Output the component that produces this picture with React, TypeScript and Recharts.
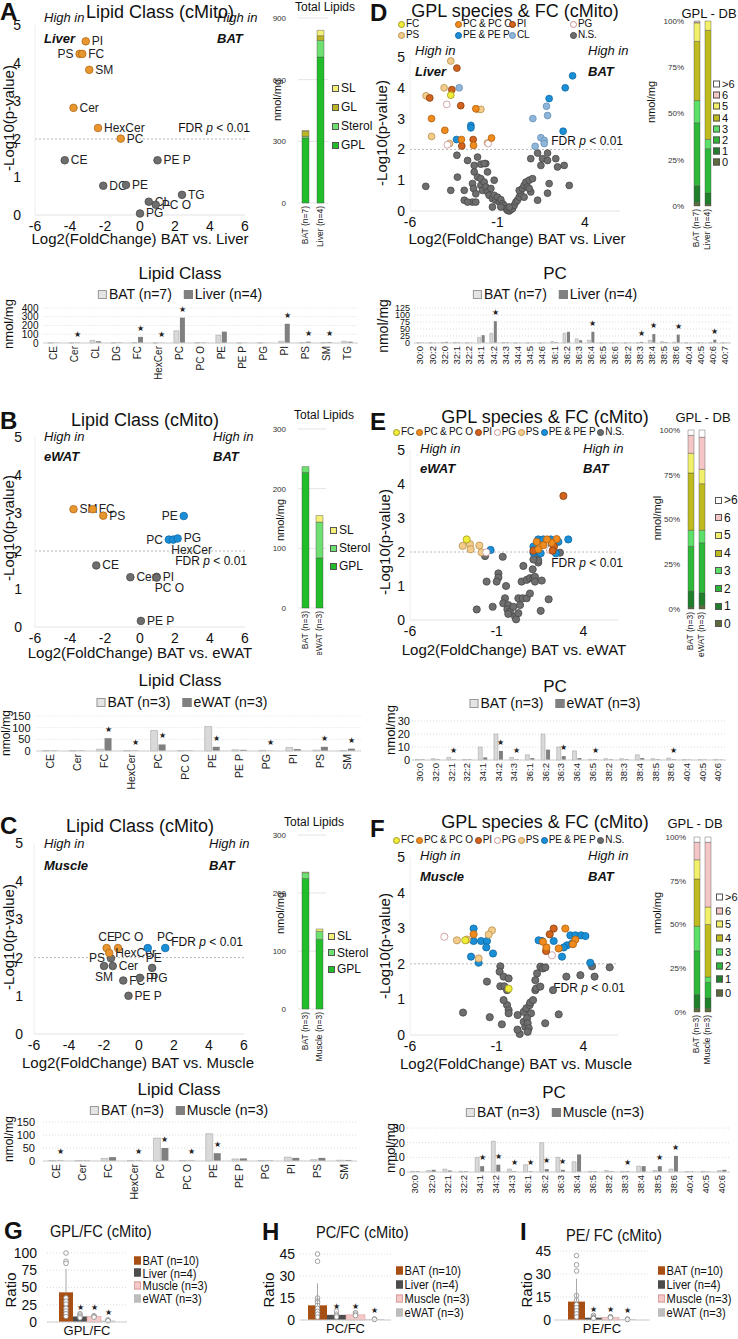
import React from "react"
import {
  ScatterChart,
  Scatter,
  XAxis,
  YAxis,
  ReferenceLine,
  BarChart,
  Bar,
  CartesianGrid,
  LabelList,
  ErrorBar
} from "recharts"

const FONT = '"Liberation Sans", Arial, Helvetica, sans-serif'
const NARROW = '"Liberation Sans Narrow", "Liberation Sans", Arial, sans-serif'

// ---- lipid class volcanoes (log2 FC BAT vs tissue, -log10 p) ----
const volcA = [
  { name: "PI", x: -3.1, y: 4.57, dir: "down" },
  { name: "PS", x: -3.45, y: 4.24, dir: "down" },
  { name: "FC", x: -3.3, y: 4.24, dir: "down" },
  { name: "SM", x: -2.9, y: 3.82, dir: "down" },
  { name: "Cer", x: -3.8, y: 2.82, dir: "down" },
  { name: "HexCer", x: -2.4, y: 2.29, dir: "down" },
  { name: "PC", x: -1.1, y: 2.01, dir: "down" },
  { name: "CE", x: -4.3, y: 1.44, dir: "ns" },
  { name: "PE P", x: 1.0, y: 1.44, dir: "ns" },
  { name: "DG", x: -2.1, y: 0.77, dir: "ns" },
  { name: "PE", x: -0.8, y: 0.79, dir: "ns" },
  { name: "CL", x: 0.5, y: 0.35, dir: "ns" },
  { name: "PC O", x: 0.9, y: 0.27, dir: "ns" },
  { name: "TG", x: 2.4, y: 0.53, dir: "ns" },
  { name: "PG", x: 0.0, y: 0.04, dir: "ns" }
]
const volcB = [
  { name: "SM", x: -3.8, y: 3.1, dir: "down" },
  { name: "FC", x: -2.7, y: 3.1, dir: "down" },
  { name: "PS", x: -2.1, y: 2.93, dir: "down" },
  { name: "PE", x: 2.5, y: 2.92, dir: "up" },
  { name: "PC", x: 1.65, y: 2.3, dir: "up" },
  { name: "HexCer", x: 1.9, y: 2.3, dir: "up" },
  { name: "PG", x: 2.15, y: 2.33, dir: "up" },
  { name: "CE", x: -2.5, y: 1.62, dir: "ns" },
  { name: "Cer", x: -0.55, y: 1.31, dir: "ns" },
  { name: "PI", x: 0.95, y: 1.32, dir: "ns" },
  { name: "PC O", x: 0.95, y: 1.3, dir: "ns" },
  { name: "PE P", x: 0.05, y: 0.16, dir: "ns" }
]
const volcC = [
  { name: "CE", x: -1.85, y: 2.25, dir: "down" },
  { name: "PC O", x: -1.2, y: 2.25, dir: "down" },
  { name: "HexCer", x: -1.7, y: 2.12, dir: "down" },
  { name: "PE", x: 0.5, y: 2.25, dir: "up" },
  { name: "PC", x: 1.5, y: 2.25, dir: "up" },
  { name: "PS", x: -1.6, y: 1.98, dir: "ns" },
  { name: "SM", x: -2.0, y: 1.78, dir: "ns" },
  { name: "Cer", x: -1.5, y: 1.78, dir: "ns" },
  { name: "FC", x: -0.9, y: 1.4, dir: "ns" },
  { name: "PI", x: 0.05, y: 1.47, dir: "ns" },
  { name: "PG", x: 0.75, y: 1.73, dir: "ns" },
  { name: "PE P", x: -0.6, y: 1.0, dir: "ns" }
]
const sideA: Record<string, string> = { PS: "l" }
const sideB: Record<string, string> = { PE: "l", PC: "l", HexCer: "br", "PC O": "br" }
const sideC: Record<string, string> = { CE: "t", "PC O": "tr", PE: "br", PC: "t", PS: "l", SM: "b", PG: "br" }

// ---- GPL species volcanoes: [log2 FC, -log10 p] ----
const D_FC = [[-3.67, 3.76]]
const D_PC = [[-4.77, 3.0], [-4.01, 2.62], [-3.06, 2.32], [-2.37, 2.13], [-1.34, 2.37], [-2.24, 3.32]]
const D_PI = [[-3.32, 4.64], [-3.61, 3.94], [-4.87, 3.67], [-3.1, 3.42], [-2.39, 2.32], [-3.04, 2.11]]
const D_PG = [[-3.9, 3.46], [-3.86, 2.15], [-1.53, 2.19]]
const D_PS = [[-3.67, 4.87], [-4.05, 4.0], [-5.08, 3.74], [-4.77, 2.42], [-3.74, 2.19], [-2.14, 3.3], [-1.95, 3.3], [-1.57, 2.21]]
const D_PE = [[-3.34, 2.32], [-2.52, 2.78], [-2.52, 2.7], [1.95, 3.65], [2.87, 4.0], [3.29, 4.39], [2.75, 2.59]]
const D_CL = [[-3.19, 4.0], [1.02, 3.0], [1.15, 2.1], [1.48, 2.38], [1.67, 2.29], [1.67, 2.19], [1.86, 3.1], [1.8, 3.4]]
const D_NS = [
  [-5.1, 0.8], [-3.32, 1.81], [-3.67, 0.67], [-3.29, 1.1], [-2.9, 0.67], [-2.9, 0.35], [-2.71, 1.64], [-2.33, 1.48],
  [-2.14, 1.75], [-1.95, 1.52], [-1.67, 1.54], [-2.33, 1.27], [-2.14, 1.1], [-1.95, 1.05], [-2.43, 0.89], [-2.37, 0.73],
  [-2.24, 0.56], [-2.43, 0.29], [-2.24, 0.29], [-1.95, 0.83], [-1.86, 0.67], [-1.76, 0.94], [-1.67, 0.78], [-1.57, 0.62],
  [-1.48, 0.51], [-1.38, 0.73], [-1.29, 0.4], [-1.19, 0.51], [-1.1, 0.35], [-1.0, 0.45], [-0.9, 0.29], [-0.81, 0.37],
  [-0.71, 0.24], [-0.62, 0.18], [-0.52, 0.08], [-0.43, 0.02], [-0.33, 0.0], [-0.24, 0.04], [-0.14, 0.08], [-0.05, 0.18],
  [0.05, 0.29], [0.14, 0.35], [0.24, 0.45], [0.33, 0.56], [0.24, 0.67], [0.43, 0.73], [0.52, 0.83], [0.62, 0.94],
  [0.71, 0.78], [0.81, 1.0], [0.9, 1.7], [1.0, 1.05], [0.9, 0.62], [1.29, 0.35], [1.29, 1.88], [1.48, 1.48],
  [1.57, 1.7], [1.86, 1.88], [1.86, 1.64], [1.95, 0.89], [1.86, 0.58], [2.33, 1.7], [2.43, 1.43], [2.81, 1.48],
  [3.1, 0.83], [-1.29, 0.13], [-2.71, 0.29], [-1.19, 1.0], [-1.76, 1.54], [-1.57, 1.27], [-0.81, 0.13], [-0.33, 0.13],
  [0.52, 0.45], [0.81, 0.73]
]

const E_FC = [[-2.73, 2.37]]
const E_PS = [[-2.96, 2.18], [-2.54, 2.23], [-2.5, 2.08], [-2.0, 2.19], [-1.87, 1.99]]
const E_PC = [[1.69, 2.2], [1.4, 2.08], [2.46, 2.38], [2.17, 2.27], [1.31, 2.3], [1.9, 2.37]]
const E_PI = [[2.85, 3.65], [2.31, 2.16], [2.23, 2.04], [1.12, 2.04]]
const E_PG = [[2.08, 2.06], [-1.6, 1.99]]
const E_PE = [[-1.35, 2.06], [1.12, 2.16], [1.12, 1.98], [1.4, 2.37], [1.69, 2.37], [2.12, 2.37], [2.17, 2.2], [2.56, 2.3], [3.13, 2.37], [1.54, 1.96], [2.42, 1.96]]
const E_NS = [
  [-1.67, 1.88], [-0.65, 1.86], [-1.58, 1.13], [-0.9, 1.37], [-0.9, 1.25], [-0.46, 1.0], [-1.0, 1.13], [-2.15, 0.31],
  [-1.23, 0.39], [-0.52, 0.64], [-0.62, 0.49], [-0.33, 0.44], [-0.38, 0.31], [-0.23, 0.25], [-0.33, 0.18], [-0.04, 0.39],
  [0.06, 0.1], [0.12, 0.02], [0.25, 0.2], [0.35, 0.44], [0.25, 0.64], [0.44, 1.13], [0.5, 0.64], [0.73, 0.64],
  [0.54, 1.59], [0.73, 1.18], [0.92, 1.23], [1.08, 1.49], [1.12, 1.23], [1.21, 1.27], [1.21, 1.13], [1.4, 1.69],
  [1.4, 1.76], [1.6, 1.16], [1.54, 0.27], [2.0, 0.61], [2.65, 1.98], [1.12, 1.78], [0.92, 0.78], [1.4, 1.96]
]

const F_FC = [[-2.81, 2.66], [-0.31, 1.3]]
const F_PS = [[-3.29, 2.66], [-2.71, 2.68], [-1.27, 2.94], [-1.46, 2.82], [-2.04, 2.15]]
const F_PC = [[-2.33, 2.83], [1.87, 2.46], [2.58, 2.43], [2.96, 2.99], [3.54, 2.68], [1.67, 2.62], [3.4, 2.55]]
const F_PI = [[2.29, 2.99], [2.06, 2.83], [1.85, 2.36]]
const F_PG = [[-4.02, 2.76], [2.19, 2.24]]
const F_PE = [
  [-2.33, 2.99], [-2.33, 2.64], [-2.48, 2.2], [-2.04, 2.03], [-1.9, 2.64], [-1.56, 2.64], [-1.21, 2.29], [-1.6, 2.46],
  [1.62, 2.64], [2.29, 2.64], [2.77, 2.2], [3.06, 2.52], [3.25, 2.8], [3.54, 2.8], [3.87, 2.8], [4.12, 2.78],
  [4.4, 2.03], [3.35, 2.57], [2.87, 2.46], [1.42, 2.66]
]
const F_NS = [
  [-2.94, 0.63], [-1.4, 0.5], [-1.56, 1.5], [-0.79, 1.93], [-0.83, 1.78], [-0.6, 1.64], [-0.31, 1.59], [-0.79, 1.37],
  [-0.56, 1.37], [-0.4, 1.26], [-0.4, 0.84], [-0.31, 0.7], [0.21, 0.56], [0.56, 0.65], [0.71, 0.75], [0.9, 0.84],
  [0.98, 0.61], [0.65, 0.23], [0.56, 0.37], [0.75, 0.47], [0.79, 0.33], [0.85, 0.19], [0.79, 0.09], [1.23, 1.54],
  [1.33, 1.73], [1.52, 1.92], [1.67, 1.87], [1.23, 1.26], [1.29, 1.31], [1.81, 1.9], [2.25, 1.26], [3.02, 1.64],
  [3.83, 1.68], [4.5, 1.93], [4.65, 1.64], [5.52, 1.9], [0.94, 0.91], [1.1, 0.98], [2.58, 0.58], [1.52, 1.36],
  [-0.6, 0.98], [-0.31, 0.61], [-0.7, 0.3], [0.33, 0.03], [0.2, 0.15], [1.8, 0.33]
]

// ---- total lipids (nmol/mg) ----
const totClasses = ["GPL", "Sterol", "GL", "SL"]
const totA_BAT = [316, 8, 25, 4]
const totA_Liver = [710, 81, 23, 26]
const totB_BAT = [227, 10, 0, 0]
const totB_eWAT = [84, 60, 0, 11]
const totC_BAT = [225, 10, 0, 1]
const totC_Muscle = [120, 14, 0, 4]

// ---- GPL double bonds (% of GPL) ----
const dbClasses = ["0", "1", "2", "3", "4", "5", "6", ">6"]
const dbD_BAT = [2, 9, 34, 12, 32, 10, 0.5, 0.5]
const dbD_Liver = [1, 6, 24, 5, 59, 5, 0, 0]
const dbE_BAT = [1, 9, 25, 9, 32, 11, 10, 3]
const dbE_eWAT = [2, 7, 28, 7, 26, 8, 18, 4]
const dbF_BAT = [2, 8, 25, 14, 27, 11, 10, 3]
const dbF_Muscle = [2, 6, 9, 3, 30, 10, 37, 3]

// ---- lipid class bars (nmol/mg) ----
const catA = ["CE", "Cer", "CL", "DG", "FC", "HexCer", "PC", "PC O", "PE", "PE P", "PG", "PI", "PS", "SM", "TG"]
const barA_BAT = [2, 2, 30, 2, 5, 2, 140, 5, 90, 2, 2, 20, 5, 5, 20]
const barA_Liver = [3, 5, 20, 5, 70, 2, 290, 5, 130, 2, 2, 220, 15, 10, 15]
const starsA = ["Cer", "FC", "HexCer", "PC", "PI", "PS", "SM"]

const catBC = ["CE", "Cer", "FC", "HexCer", "PC", "PC O", "PE", "PE P", "PG", "PI", "PS", "SM"]
const barB_BAT = [2, 2, 8, 2, 88, 2, 105, 5, 3, 15, 4, 2]
const barB_eWAT = [2, 2, 55, 2, 28, 2, 18, 5, 1, 8, 18, 10]
const starsB = ["FC", "HexCer", "PC", "PE", "PG", "PS", "SM"]
const barC_BAT = [2, 2, 10, 2, 88, 2, 105, 8, 2, 15, 5, 3]
const barC_Muscle = [2, 2, 15, 2, 50, 2, 30, 10, 2, 12, 12, 4]
const starsC = ["CE", "HexCer", "PC", "PC O", "PE"]

// ---- PC species bars (nmol/mg) ----
const catD = ["30:0", "30:2", "32:0", "32:1", "32:2", "34:1", "34:2", "34:3", "34:4", "34:5", "34:6", "36:1", "36:2",
  "36:3", "36:4", "36:5", "36:6", "38:2", "38:3", "38:4", "38:5", "38:6", "40:4", "40:5", "40:6", "40:7"]
const pcD_BAT = [1, 1, 2, 2, 1, 20, 35, 2, 1, 1, 1, 5, 35, 15, 10, 1, 1, 1, 1, 10, 5, 3, 1, 1, 2, 1]
const pcD_Liver = [1, 1, 4, 2, 1, 28, 78, 2, 1, 1, 1, 3, 40, 10, 40, 1, 1, 1, 4, 32, 3, 30, 1, 1, 12, 1]
const starsD = ["34:2", "36:4", "38:3", "38:4", "38:6", "40:6"]

const catEF = ["30:0", "32:0", "32:1", "32:2", "34:1", "34:2", "34:3", "36:1", "36:2", "36:3", "36:4", "36:5", "38:2",
  "38:3", "38:4", "38:5", "38:6", "40:4", "40:5", "40:6"]
const pcE_BAT = [0.5, 1, 2, 0.5, 10, 20, 2, 4, 20, 10, 7, 0.5, 1, 1, 4, 1, 1.5, 0.3, 0.3, 0.5]
const pcE_eWAT = [0.5, 0.5, 0.5, 0.5, 2, 7, 0.5, 1.5, 8, 3, 1.5, 0.5, 0.5, 0.5, 1.5, 0.5, 0.5, 0.3, 0.3, 0.3]
const starsE = ["32:1", "34:2", "34:3", "36:3", "36:5", "38:6"]
const pcF_BAT = [0.5, 1, 2, 0.5, 10, 21, 2, 5, 20, 10, 7, 0.5, 1, 0.5, 4, 1, 2, 0.3, 0.5, 1]
const pcF_Muscle = [0.5, 1.5, 1, 0.5, 4, 5, 0.5, 0.5, 2, 1.5, 12, 0.5, 0.5, 0.5, 4, 4, 11, 0.3, 0.3, 1.5]
const starsF = ["34:1", "34:2", "34:3", "36:1", "36:2", "36:3", "38:3", "38:5", "38:6"]

// ---- ratios ----
const ratioGroups = ["BAT", "Liver", "Muscle", "eWAT"]
const ratioLegend = ["BAT (n=10)", "Liver (n=4)", "Muscle (n=3)", "eWAT (n=3)"]
const gplFc = [43, 8, 8, 2]
const gplFcSd = [34, 2, 1, 1]
const gplFcPts = [[100, 88, 85, 35, 30, 26, 20, 16, 12, 8], [12, 10, 8, 6], [9, 8, 7], [3, 2, 2]]
const pcFc = [10, 3.5, 3.5, 0.5]
const pcFcSd = [15, 1.5, 1, 0.3]
const pcFcPts = [[45, 40, 15, 13, 12, 10, 8, 6, 4, 2], [6, 4, 3, 2], [5, 4, 3], [0.6, 0.5, 0.4]]
const peFc = [12, 1.5, 1.5, 0.5]
const peFcSd = [15, 1, 0.5, 0.3]
const peFcPts = [[42, 36, 32, 16, 13, 10, 8, 6, 4, 2], [3, 2, 1.5, 1], [2, 2, 1.5], [0.5, 0.5, 0.3]]

const ORANGE = { fill: "#E8962E", stroke: "#B06A18" }
const BLUE = { fill: "#1B8FD6", stroke: "#0E68A6" }
const GREY = { fill: "#6E6E6E", stroke: "#474747" }
const CLS = {
  FC: { fill: "#F0EC3A", stroke: "#A29A1E" },
  PC: { fill: "#F08C1E", stroke: "#B0600E" },
  PI: { fill: "#D2641E", stroke: "#8A3E0C" },
  PG: { fill: "#FFFFFF", stroke: "#C89090" },
  PS: { fill: "#F3CB8A", stroke: "#B89050" },
  PE: BLUE,
  CL: { fill: "#8DB6DA", stroke: "#6A90B6" },
  NS: GREY
}
const TOT_COL: Record<string, string> = { GPL: "#22BE2A", Sterol: "#6EE072", GL: "#BDB521", SL: "#F4EF78" }
const DB_COL: Record<string, string> = {
  "0": "#5E6B3B", "1": "#1F7F2A", "2": "#2DB83A", "3": "#5CE067",
  "4": "#BFBA1E", "5": "#F2F06A", "6": "#F5C6C6", ">6": "#FFFFFF"
}
const RATIO_COL: Record<string, string> = { BAT: "#A84F14", Liver: "#4D4D4D", Muscle: "#F6C9C9", eWAT: "#BDBDBD" }

const T = ({ x, y, size = 12, bold = false, italic = false, anchor = "start", rot = false, squeeze = 1, family = FONT, children }: any) => {
  const tx = anchor === "middle" ? "-50%" : anchor === "end" ? "-100%" : "0"
  return (
    <div
      style={{
        position: "absolute",
        left: x,
        top: y,
        fontSize: size,
        fontWeight: bold ? 700 : 400,
        fontStyle: italic ? "italic" : "normal",
        fontFamily: family,
        whiteSpace: "nowrap",
        lineHeight: 1,
        color: "#111",
        transformOrigin: rot ? "50% 50%" : "0 50%",
        transform: rot ? "translate(-50%, -50%) rotate(-90deg)" : `translate(${tx}, -50%) scaleX(${squeeze})`
      }}
    >
      {children}
    </div>
  )
}

const Sq = ({ fill, stroke = "#666", s = 7 }: any) => (
  <span
    style={{
      display: "inline-block",
      width: s,
      height: s,
      background: fill,
      border: `1px solid ${stroke}`,
      boxSizing: "border-box",
      marginRight: 2
    }}
  />
)

const Dot = ({ fill, stroke }: any) => (
  <span
    style={{
      display: "inline-block",
      width: 7,
      height: 7,
      borderRadius: "50%",
      background: fill,
      border: `1px solid ${stroke}`,
      boxSizing: "border-box",
      marginRight: 1
    }}
  />
)

const RotTick = (fs: number, family = FONT) => (p: any) => (
  <text
    x={p.x}
    y={p.y}
    transform={`rotate(-90, ${p.x}, ${p.y})`}
    textAnchor="end"
    dx={-3}
    dy={fs * 0.35}
    fontSize={fs}
    fontFamily={family}
    fill="#222"
  >
    {p.payload.value}
  </text>
)

const toPts = (arr: number[][]) => arr.map(([x, y]) => ({ x, y }))

const Volcano = ({ left, top, width, height, mt, yWidth, tickMargin, r, groups, xTicks, sides }: any) => {
  const shapeFor = (g: any) => (p: any) => {
    const { cx, cy, payload } = p
    let label = null
    if (payload.name) {
      const side = (sides && sides[payload.name]) || "r"
      let tx = cx + 6
      let ty = cy + 4
      let anchor = "start"
      if (side === "l") { tx = cx - 6; anchor = "end" }
      if (side === "t") { tx = cx; ty = cy - 7; anchor = "middle" }
      if (side === "tr") { tx = cx - 4; ty = cy - 7 }
      if (side === "b") { tx = cx; ty = cy + 15; anchor = "middle" }
      if (side === "br") { tx = cx - 2; ty = cy + 14 }
      label = (
        <text x={tx} y={ty} textAnchor={anchor} fontSize={12} fill="#222" fontFamily={FONT}>
          {payload.name}
        </text>
      )
    }
    return (
      <g>
        <circle cx={cx} cy={cy} r={r} fill={g.fill} stroke={g.stroke} strokeWidth={0.8} />
        {label}
      </g>
    )
  }
  return (
    <div style={{ position: "absolute", left, top }}>
      <ScatterChart width={width} height={height} margin={{ top: mt, right: 5, left: 0, bottom: 0 }}>
        <XAxis
          type="number"
          dataKey="x"
          domain={[-6, 6]}
          ticks={xTicks}
          interval={0}
          tickLine={false}
          tickSize={0}
          tickMargin={6}
          height={30}
          axisLine={{ stroke: "#e3e3e3" }}
          tick={{ fontSize: 14, fill: "#111", fontFamily: FONT }}
        />
        <YAxis
          type="number"
          dataKey="y"
          domain={[0, 5]}
          ticks={[0, 1, 2, 3, 4, 5]}
          interval={0}
          width={yWidth}
          tickLine={false}
          tickSize={0}
          tickMargin={tickMargin}
          axisLine={{ stroke: "#eeeeee" }}
          tick={{ fontSize: 14, fill: "#111", fontFamily: FONT }}
        />
        <ReferenceLine y={2} stroke="#b8b8b8" strokeDasharray="2 2" />
        {groups.map((g: any, i: number) => (
          <Scatter key={i} data={g.data} fill={g.fill} shape={shapeFor(g)} isAnimationActive={false} />
        ))}
      </ScatterChart>
    </div>
  )
}

const Stack = ({ left, top, width, height, xH, samples, rows, classes, colors, yMax, yTicks, pct, tickMargin, barSize = 7 }: any) => {
  const data = samples.map((s: string, i: number) => {
    const o: any = { name: s }
    classes.forEach((c: string, j: number) => { o[c] = rows[i][j] })
    return o
  })
  return (
    <div style={{ position: "absolute", left, top }}>
      <BarChart width={width} height={height} data={data} margin={{ top: 8, right: 0, left: 0, bottom: 0 }} barCategoryGap={0}>
        {!pct && <CartesianGrid vertical={false} stroke="#e4e4e4" />}
        <XAxis dataKey="name" interval={0} height={xH} tickLine={false} axisLine={false} tickSize={0} tickMargin={0} tick={RotTick(8.5)} />
        <YAxis
          domain={[0, yMax]}
          ticks={yTicks}
          interval={0}
          width={40}
          tickLine={false}
          axisLine={false}
          tickSize={0}
          tickMargin={tickMargin}
          tickFormatter={(v: number) => (pct ? `${v}%` : `${v}`)}
          tick={{ fontSize: 8, fill: "#333", fontFamily: FONT }}
        />
        {classes.map((c: string) => (
          <Bar key={c} dataKey={c} stackId="s" fill={colors[c]} stroke="#4a4a4a" strokeWidth={0.4} barSize={barSize} isAnimationActive={false} />
        ))}
      </BarChart>
    </div>
  )
}

const starLabel = (p: any) =>
  p.value === 1 ? (
    <text x={p.x + p.width / 2} y={p.y - 6} textAnchor="middle" fontSize={8} fill="#222">
      ★
    </text>
  ) : null

const Pair = ({ left, top, width, height, yWidth, xH, cats, a, b, stars, yMax, yTicks, xFs, yFs = 11, tickMargin }: any) => {
  const data = cats.map((c: string, i: number) => ({ name: c, a: a[i], b: b[i], star: stars.includes(c) ? 1 : 0 }))
  return (
    <div style={{ position: "absolute", left, top }}>
      <BarChart width={width} height={height} data={data} margin={{ top: 8, right: 4, left: 0, bottom: 0 }} barGap={1} barCategoryGap="22%">
        <CartesianGrid vertical={false} stroke="#dcdcdc" strokeDasharray="1 2" />
        <XAxis dataKey="name" interval={0} height={xH} tickLine={false} tickSize={0} tickMargin={0} axisLine={{ stroke: "#cfcfcf" }} tick={RotTick(xFs)} />
        <YAxis
          domain={[0, yMax]}
          ticks={yTicks}
          interval={0}
          width={yWidth}
          tickLine={false}
          axisLine={false}
          tickSize={0}
          tickMargin={tickMargin}
          tick={{ fontSize: yFs, fill: "#111", fontFamily: FONT }}
        />
        <Bar dataKey="a" fill="#d9d9d9" stroke="#9a9a9a" strokeWidth={0.5} isAnimationActive={false} />
        <Bar dataKey="b" fill="#808080" isAnimationActive={false}>
          <LabelList dataKey="star" content={starLabel} />
        </Bar>
      </BarChart>
    </div>
  )
}

const Ratio = ({ left, top, width, height, yWidth, cat, vals, sds, pts, yMax, yTicks, gap, tickMargin }: any) => {
  const row: any = { name: cat }
  ratioGroups.forEach((g, i) => {
    row[g] = vals[i]
    row["e" + g] = [0, sds[i]]
    row["s" + g] = i > 0 ? 1 : 0
  })
  const plotH = height - 8 - 17
  const shapeFor = (i: number) => (p: any) => {
    const base = p.y + p.height
    const k = plotH / yMax
    return (
      <g>
        <rect x={p.x} y={p.y} width={p.width} height={p.height} fill={RATIO_COL[ratioGroups[i]]} stroke={i === 2 ? "#d89a9a" : "none"} strokeWidth={0.6} />
        {pts[i].map((v: number, j: number) => (
          <circle key={j} cx={p.x + p.width / 2} cy={base - v * k} r={2.3} fill="#fff" stroke="#8a8a8a" strokeWidth={0.8} />
        ))}
      </g>
    )
  }
  return (
    <div style={{ position: "absolute", left, top }}>
      <BarChart width={width} height={height} data={[row]} margin={{ top: 8, right: 3, left: 0, bottom: 0 }} barGap={0} barCategoryGap={gap}>
        <CartesianGrid vertical={false} stroke="#dedede" strokeDasharray="1 2" />
        <XAxis dataKey="name" height={17} tickLine={false} tickSize={0} tickMargin={4} axisLine={{ stroke: "#cfcfcf" }} tick={{ fontSize: 13, fill: "#111", fontFamily: NARROW }} />
        <YAxis
          domain={[0, yMax]}
          ticks={yTicks}
          interval={0}
          width={yWidth}
          tickLine={false}
          axisLine={false}
          tickSize={0}
          tickMargin={tickMargin}
          tick={{ fontSize: 14, fill: "#111", fontFamily: NARROW }}
        />
        {ratioGroups.map((g, i) => (
          <Bar key={g} dataKey={g} fill={RATIO_COL[g]} shape={shapeFor(i)} isAnimationActive={false}>
            {i === 0 && <ErrorBar dataKey={"e" + g} width={0} stroke="#a8a8a8" strokeWidth={1} />}
            {i > 0 && <LabelList dataKey={"s" + g} content={starLabel} />}
          </Bar>
        ))}
      </BarChart>
    </div>
  )
}

const PairLegend = ({ x, y, a, b }: any) => (
  <div style={{ position: "absolute", left: x, top: y, transform: "translate(-50%, -50%)", fontSize: 14, whiteSpace: "nowrap", display: "flex", alignItems: "center", lineHeight: 1 }}>
    <Sq fill="#e4e4e4" stroke="#999" s={9} />
    <span style={{ marginRight: 12 }}>{a}</span>
    <Sq fill="#808080" stroke="#808080" s={9} />
    <span>{b}</span>
  </div>
)

const ColumnKey = ({ x, y, items, step, size = 11 }: any) => (
  <div style={{ position: "absolute", left: x, top: y }}>
    {items.map((it: any, i: number) => (
      <div key={i} style={{ position: "absolute", top: i * step, display: "flex", alignItems: "center", fontSize: size, whiteSpace: "nowrap", lineHeight: 1, transform: "translateY(-50%)" }}>
        <Sq fill={it.fill} stroke="#555" s={7} />
        {it.label}
      </div>
    ))}
  </div>
)

const RowKey = ({ x, y, items, size = 10 }: any) => (
  <div style={{ position: "absolute", left: x, top: y, transform: "translateY(-50%)", display: "flex", alignItems: "center", fontSize: size, whiteSpace: "nowrap", lineHeight: 1, letterSpacing: -0.2 }}>
    {items.map((it: any, i: number) => (
      <span key={i} style={{ display: "flex", alignItems: "center", marginRight: 2 }}>
        <Dot fill={it.fill} stroke={it.stroke} />
        {it.label}
      </span>
    ))}
  </div>
)

const GPLGroups = (fc: any, pc: any, pi: any, pg: any, ps: any, pe: any, ns: any, cl?: any) => {
  const g = [{ data: toPts(ns), ...CLS.NS }]
  if (cl) g.push({ data: toPts(cl), ...CLS.CL })
  g.push({ data: toPts(pe), ...CLS.PE })
  g.push({ data: toPts(ps), ...CLS.PS })
  g.push({ data: toPts(pg), ...CLS.PG })
  g.push({ data: toPts(pi), ...CLS.PI })
  g.push({ data: toPts(pc), ...CLS.PC })
  g.push({ data: toPts(fc), ...CLS.FC })
  return g
}

const classGroups = (arr: any[]) => [
  { data: arr.filter((d) => d.dir === "ns"), ...GREY },
  { data: arr.filter((d) => d.dir === "down"), ...ORANGE },
  { data: arr.filter((d) => d.dir === "up"), ...BLUE }
]

const rowKeyEF = [
  { label: "FC", ...CLS.FC },
  { label: "PC & PC O", ...CLS.PC },
  { label: "PI", ...CLS.PI },
  { label: "PG", ...CLS.PG },
  { label: "PS", ...CLS.PS },
  { label: "PE & PE P", ...CLS.PE },
  { label: "N.S.", ...CLS.NS }
]

const totKey = (classes: string[]) => classes.slice().reverse().map((c) => ({ label: c, fill: TOT_COL[c] }))
const dbKey = dbClasses.slice().reverse().map((c) => ({ label: c, fill: DB_COL[c] }))

const RatioKey = ({ x, y, step }: any) => (
  <div style={{ position: "absolute", left: x, top: y, transform: "scaleX(0.86)", transformOrigin: "left top" }}>
    {ratioLegend.map((l, i) => (
      <div key={l} style={{ position: "absolute", top: i * step, display: "flex", alignItems: "center", fontSize: 13, fontFamily: NARROW, whiteSpace: "nowrap", lineHeight: 1, transform: "translateY(-50%)" }}>
        <Sq fill={RATIO_COL[ratioGroups[i]]} stroke={i === 2 ? "#d89a9a" : RATIO_COL[ratioGroups[i]]} s={8} />
        {l}
      </div>
    ))}
  </div>
)

const VolcText = ({ px, low, highY, lowY, rightX, fdrX, fdrY, ylX, ylY, xlX, xlY, xlabel, letter, title, titleX, titleY, letterY }: any) => (
  <>
    <T x={px - 2} y={letterY} size={24} bold>{letter}</T>
    <T x={titleX} y={titleY} size={18} anchor="middle">{title}</T>
    <T x={px + 42} y={highY} size={13} italic>High in</T>
    <T x={px + 42} y={lowY} size={13} italic bold>{low}</T>
    <T x={rightX} y={highY} size={13} italic>High in</T>
    <T x={rightX} y={lowY} size={13} italic bold>BAT</T>
    <T x={fdrX} y={fdrY} size={12} anchor="end">FDR <i>p</i> {"<"} 0.01</T>
    <T x={ylX} y={ylY} size={15} rot>-Log10(p-value)</T>
    <T x={xlX} y={xlY} size={15} anchor="middle">{xlabel}</T>
  </>
)

export default function App() {
  return (
    <div style={{ position: "absolute", left: 0, top: 0, width: 738, height: 1339, background: "#fff", fontFamily: FONT, color: "#111", overflow: "hidden" }}>
      {/* ---------- A ---------- */}
      <VolcText px={2} low="Liver" highY={17} lowY={38} rightX={217} fdrX={250} fdrY={128} ylX={8} ylY={118} xlX={140} xlY={238}
        xlabel="Log2(FoldChange)  BAT vs. Liver" letter="A" title="Lipid Class (cMito)" titleX={160} titleY={12} letterY={12} />
      <Volcano left={0} top={0} width={250} height={245} mt={25} yWidth={35} tickMargin={14} r={3.8}
        groups={classGroups(volcA)} xTicks={[-6, -4, -2, 0, 2, 4, 6]} sides={sideA} />
      <T x={325} y={7} size={12} anchor="middle">Total Lipids</T>
      <T x={277} y={100} size={11} rot>nmol/mg</T>
      <Stack left={258} top={10} width={70} height={240} xH={47} samples={["BAT (n=7)", "Liver (n=4)"]}
        rows={[totA_BAT, totA_Liver]} classes={totClasses} colors={TOT_COL} yMax={900} yTicks={[0, 300, 600, 900]} tickMargin={12} />
      <ColumnKey x={332} y={88} step={19} items={totKey(totClasses)} size={12} />

      <T x={180} y={273} size={17} anchor="middle">Lipid Class</T>
      <PairLegend x={180} y={294} a="BAT (n=7)" b="Liver (n=4)" />
      <T x={8} y={324} size={13} rot>nmol/mg</T>
      <Pair left={0} top={300} width={362} height={79} yWidth={43.5} xH={36} cats={catA} a={barA_BAT} b={barA_Liver}
        stars={starsA} yMax={400} yTicks={[0, 100, 200, 300, 400]} xFs={10} yFs={10} tickMargin={5} />

      {/* ---------- D ---------- */}
      <T x={370} y={13} size={24} bold>D</T>
      <T x={515} y={11} size={18} anchor="middle">GPL species &amp; FC (cMito)</T>
      <RowKey x={398} y={24} items={[{ label: "FC", ...CLS.FC }]} />
      <RowKey x={455} y={24} items={[{ label: "PC & PC O", ...CLS.PC }]} />
      <RowKey x={509} y={24} items={[{ label: "PI", ...CLS.PI }]} />
      <RowKey x={570} y={24} items={[{ label: "PG", ...CLS.PG }]} />
      <RowKey x={398} y={35} items={[{ label: "PS", ...CLS.PS }]} />
      <RowKey x={455} y={35} items={[{ label: "PE & PE P", ...CLS.PE }]} />
      <RowKey x={509} y={35} items={[{ label: "CL", ...CLS.CL }]} />
      <RowKey x={570} y={35} items={[{ label: "N.S.", ...CLS.NS }]} />
      <T x={415} y={50} size={13} italic>High in</T>
      <T x={415} y={71} size={13} italic bold>Liver</T>
      <T x={588} y={50} size={13} italic>High in</T>
      <T x={588} y={71} size={13} italic bold>BAT</T>
      <T x={623} y={141} size={12} anchor="end">FDR <i>p</i> {"<"} 0.01</T>
      <T x={381} y={133} size={15} rot>-Log10(p-value)</T>
      <T x={517} y={238} size={15} anchor="middle">Log2(FoldChange)  BAT vs. Liver</T>
      <Volcano left={370} top={30} width={255} height={211} mt={27} yWidth={40} tickMargin={5} r={3.4}
        groups={GPLGroups(D_FC, D_PC, D_PI, D_PG, D_PS, D_PE, D_NS, D_CL)} xTicks={[-6, -1, 4]} />
      <T x={709} y={13} size={13} anchor="middle">GPL - DB</T>
      <T x={651} y={102} size={11} rot>nmol/mg</T>
      <Stack left={650.5} top={13} width={62} height={245} xH={52} samples={["BAT (n=7)", "Liver (n=4)"]}
        rows={[dbD_BAT, dbD_Liver]} classes={dbClasses} colors={DB_COL} yMax={100} yTicks={[0, 25, 50, 75, 100]} pct tickMargin={7} barSize={6} />
      <ColumnKey x={713} y={84} step={11.2} items={dbKey} size={11} />

      <T x={555} y={273} size={17} anchor="middle">PC</T>
      <PairLegend x={555} y={294} a="BAT (n=7)" b="Liver (n=4)" />
      <T x={383} y={326} size={14} rot>nmol/mg</T>
      <Pair left={370} top={300} width={365} height={79} yWidth={44} xH={36} cats={catD} a={pcD_BAT} b={pcD_Liver}
        stars={starsD} yMax={125} yTicks={[0, 25, 50, 75, 100, 125]} xFs={9.5} yFs={9} tickMargin={4} />

      {/* ---------- B ---------- */}
      <VolcText px={2} low="eWAT" highY={436} lowY={456} rightX={213} fdrX={247} fdrY={561} ylX={8} ylY={528} xlX={140} xlY={652}
        xlabel="Log2(FoldChange)  BAT vs. eWAT" letter="B" title="Lipid Class (cMito)" titleX={145} titleY={420} letterY={421} />
      <Volcano left={0} top={412} width={250} height={245} mt={25} yWidth={35} tickMargin={13} r={3.8}
        groups={classGroups(volcB)} xTicks={[-6, -4, -2, 0, 2, 4, 6]} sides={sideB} />
      <T x={324} y={415} size={12} anchor="middle">Total Lipids</T>
      <T x={280} y={520} size={11} rot>nmol/mg</T>
      <Stack left={258} top={421} width={68} height={234} xH={47} samples={["BAT (n=3)", "eWAT (n=3)"]}
        rows={[totB_BAT, totB_eWAT]} classes={totClasses} colors={TOT_COL} yMax={300} yTicks={[0, 100, 200, 300]} tickMargin={12} />
      <ColumnKey x={330} y={530} step={18} items={[{ label: "SL", fill: TOT_COL.SL }, { label: "Sterol", fill: TOT_COL.Sterol }, { label: "GPL", fill: TOT_COL.GPL }]} size={12} />

      <T x={180} y={680} size={17} anchor="middle">Lipid Class</T>
      <PairLegend x={182} y={702} a="BAT (n=3)" b="eWAT (n=3)" />
      <T x={6} y={733} size={12} rot>nmol/mg</T>
      <Pair left={0} top={708} width={365} height={81} yWidth={36.5} xH={38} cats={catBC} a={barB_BAT} b={barB_eWAT}
        stars={starsB} yMax={150} yTicks={[0, 50, 100, 150]} xFs={10.5} yFs={11} tickMargin={6} />

      {/* ---------- E ---------- */}
      <T x={370} y={422} size={24} bold>E</T>
      <T x={545} y={417} size={18} anchor="middle">GPL species &amp; FC (cMito)</T>
      <RowKey x={393} y={432} items={rowKeyEF} size={10} />
      <T x={420} y={448} size={13} italic>High in</T>
      <T x={420} y={468} size={13} italic bold>eWAT</T>
      <T x={583} y={448} size={13} italic>High in</T>
      <T x={583} y={468} size={13} italic bold>BAT</T>
      <T x={623} y={563} size={12} anchor="end">FDR <i>p</i> {"<"} 0.01</T>
      <T x={384} y={542} size={15} rot>-Log10(p-value)</T>
      <T x={514} y={649} size={15} anchor="middle">Log2(FoldChange)  BAT vs. eWAT</T>
      <Volcano left={370} top={423} width={253} height={227} mt={27} yWidth={40} tickMargin={5} r={3.6}
        groups={GPLGroups(E_FC, E_PC, E_PI, E_PG, E_PS, E_PE, E_NS)} xTicks={[-6, -1, 4]} />
      <T x={703} y={417} size={13} anchor="middle">GPL - DB</T>
      <T x={657} y={518} size={11} rot>nmol/mgl</T>
      <Stack left={645} top={422} width={62} height={240} xH={53} samples={["BAT (n=3)", "eWAT (n=3)"]}
        rows={[dbE_BAT, dbE_eWAT]} classes={dbClasses} colors={DB_COL} yMax={100} yTicks={[0, 25, 50, 75, 100]} pct tickMargin={5} barSize={6} />
      <ColumnKey x={715} y={500} step={17.7} items={dbKey} size={12} />

      <T x={555} y={686} size={17} anchor="middle">PC</T>
      <PairLegend x={555} y={703} a="BAT (n=3)" b="eWAT (n=3)" />
      <T x={390} y={730} size={13} rot>nmol/mg</T>
      <Pair left={370} top={713} width={360} height={82} yWidth={42} xH={35} cats={catEF} a={pcE_BAT} b={pcE_eWAT}
        stars={starsE} yMax={30} yTicks={[0, 10, 20, 30]} xFs={9.5} yFs={11} tickMargin={2} />

      {/* ---------- C ---------- */}
      <VolcText px={2} low="Muscle" highY={843} lowY={865} rightX={209} fdrX={243} fdrY={942} ylX={8} ylY={937} xlX={138} xlY={1062}
        xlabel="Log2(FoldChange)  BAT vs. Muscle" letter="C" title="Lipid Class (cMito)" titleX={140} titleY={826} letterY={826} />
      <Volcano left={0} top={818} width={249} height={246} mt={25} yWidth={34} tickMargin={11} r={3.8}
        groups={classGroups(volcC)} xTicks={[-6, -4, -2, 0, 2, 4, 6]} sides={sideC} />
      <T x={314} y={822} size={12} anchor="middle">Total Lipids</T>
      <T x={280} y={913} size={11} rot>nmol/mg</T>
      <Stack left={258} top={827} width={68} height={234} xH={52} samples={["BAT (n=3)", "Muscle (n=3)"]}
        rows={[totC_BAT, totC_Muscle]} classes={totClasses} colors={TOT_COL} yMax={300} yTicks={[0, 100, 200, 300]} tickMargin={12} />
      <ColumnKey x={328} y={936} step={16.5} items={[{ label: "SL", fill: TOT_COL.SL }, { label: "Sterol", fill: TOT_COL.Sterol }, { label: "GPL", fill: TOT_COL.GPL }]} size={12} />

      <T x={179} y={1089} size={17} anchor="middle">Lipid Class</T>
      <PairLegend x={179} y={1110} a="BAT (n=3)" b="Muscle (n=3)" />
      <T x={9} y={1139} size={12} rot>nmol/mg</T>
      <Pair left={0} top={1114} width={361} height={87} yWidth={43} xH={40} cats={catBC} a={barC_BAT} b={barC_Muscle}
        stars={starsC} yMax={150} yTicks={[0, 50, 100, 150]} xFs={10.5} yFs={11} tickMargin={8} />

      {/* ---------- F ---------- */}
      <T x={370} y={829} size={24} bold>F</T>
      <T x={545} y={822} size={18} anchor="middle">GPL species &amp; FC (cMito)</T>
      <RowKey x={393} y={840} items={rowKeyEF} size={10} />
      <T x={420} y={855} size={13} italic>High in</T>
      <T x={420} y={876} size={13} italic bold>Muscle</T>
      <T x={588} y={855} size={13} italic>High in</T>
      <T x={588} y={876} size={13} italic bold>BAT</T>
      <T x={625} y={988} size={12} anchor="end">FDR <i>p</i> {"<"} 0.01</T>
      <T x={384} y={946} size={15} rot>-Log10(p-value)</T>
      <T x={516} y={1063} size={15} anchor="middle">Log2(FoldChange)  BAT vs. Muscle</T>
      <Volcano left={370} top={830} width={253} height={235} mt={27} yWidth={40} tickMargin={5} r={3.6}
        groups={GPLGroups(F_FC, F_PC, F_PI, F_PG, F_PS, F_PE, F_NS)} xTicks={[-6, -1, 4]} />
      <T x={695} y={823} size={13} anchor="middle">GPL - DB</T>
      <T x={657} y={913} size={11} rot>nmol/mg</T>
      <Stack left={650.5} top={829} width={62} height={241} xH={58} samples={["BAT (n=3)", "Muscle (n=3)"]}
        rows={[dbF_BAT, dbF_Muscle]} classes={dbClasses} colors={DB_COL} yMax={100} yTicks={[0, 25, 50, 75, 100]} pct tickMargin={5} barSize={6} />
      <ColumnKey x={716} y={897} step={13.7} items={dbKey} size={11} />

      <T x={554} y={1092} size={17} anchor="middle">PC</T>
      <PairLegend x={555} y={1112} a="BAT (n=3)" b="Muscle (n=3)" />
      <T x={390} y={1148} size={13} rot>nmol/mg</T>
      <Pair left={370} top={1120} width={364} height={87} yWidth={37} xH={35} cats={catEF} a={pcF_BAT} b={pcF_Muscle}
        stars={starsF} yMax={30} yTicks={[0, 10, 20, 30]} xFs={9.5} yFs={11} tickMargin={2} />

      {/* ---------- G / H / I ---------- */}
      <T x={4} y={1231} size={24} bold>G</T>
      <T x={50} y={1231} size={17} squeeze={0.86} family={NARROW}>GPL/FC (cMito)</T>
      <T x={10} y={1290} size={15} rot>Ratio</T>
      <Ratio left={0} top={1245} width={130} height={94} yWidth={47} cat="GPL/FC" vals={gplFc} sds={gplFcSd} pts={gplFcPts}
        yMax={100} yTicks={[0, 25, 50, 75, 100]} gap={12} tickMargin={10} />
      <RatioKey x={134} y={1260} step={12.7} />

      <T x={262} y={1232} size={24} bold>H</T>
      <T x={316} y={1232} size={17} squeeze={0.86} family={NARROW}>PC/FC (cMito)</T>
      <T x={268} y={1290} size={15} rot>Ratio</T>
      <Ratio left={253} top={1246} width={141} height={91} yWidth={47} cat="PC/FC" vals={pcFc} sds={pcFcSd} pts={pcFcPts}
        yMax={45} yTicks={[0, 15, 30, 45]} gap={8} tickMargin={5} />
      <RatioKey x={396} y={1270} step={14} />

      <T x={520} y={1232} size={24} bold>I</T>
      <T x={566} y={1235} size={17} squeeze={0.86} family={NARROW}>PE/ FC (cMito)</T>
      <T x={526} y={1290} size={15} rot>Ratio</T>
      <Ratio left={507} top={1243} width={146} height={94} yWidth={47} cat="PE/FC" vals={peFc} sds={peFcSd} pts={peFcPts}
        yMax={45} yTicks={[0, 15, 30, 45]} gap={14} tickMargin={3} />
      <RatioKey x={658} y={1270} step={14} />
    </div>
  )
}
